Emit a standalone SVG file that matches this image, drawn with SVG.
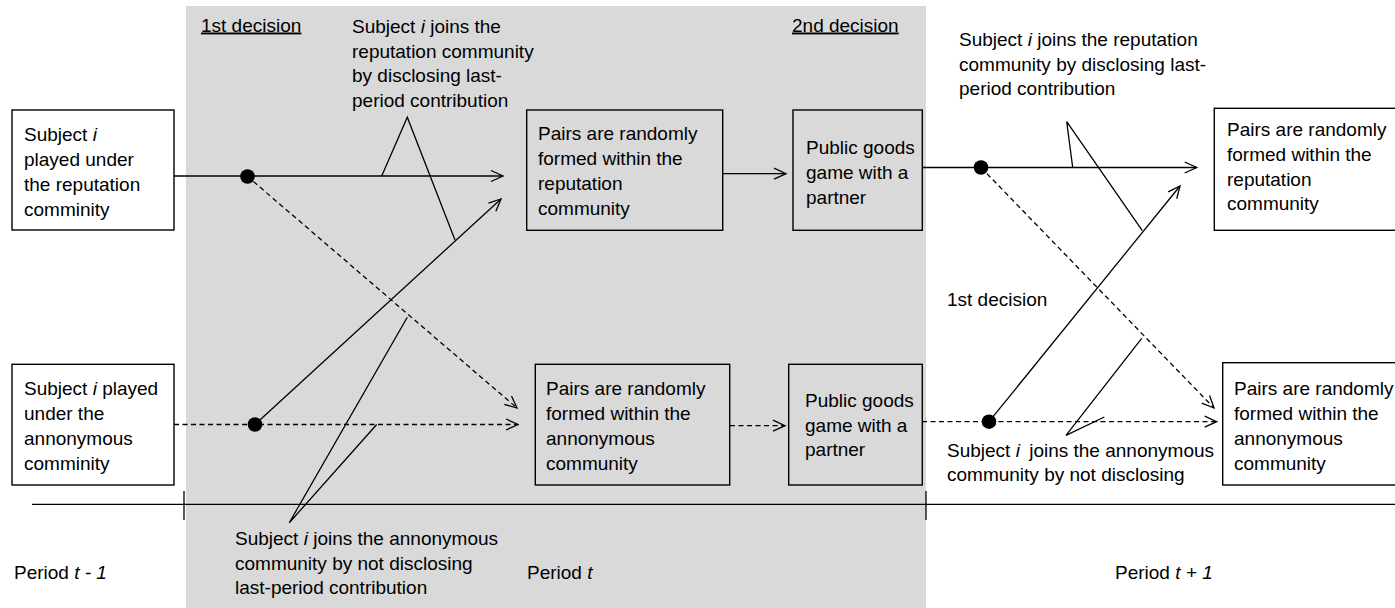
<svg xmlns="http://www.w3.org/2000/svg" width="1395" height="608" viewBox="0 0 1395 608">
<style>
text{font-family:"Liberation Sans",Arial,sans-serif;font-size:19px;fill:#000}
.it{font-style:italic}
.box{fill:none;stroke:#000;stroke-width:1.4}
.ln{fill:none;stroke:#000;stroke-width:1.3}
.ds{fill:none;stroke:#000;stroke-width:1.3;stroke-dasharray:5 3.5}
.ul{text-decoration:underline}
</style>
<defs>
<marker id="ah" markerUnits="userSpaceOnUse" viewBox="-14 -8 16 16" refX="0" refY="0" markerWidth="16" markerHeight="16" orient="auto" overflow="visible">
<path d="M-12,-5.5 L0,0 L-12,5.5" fill="none" stroke="#000" stroke-width="1.3" stroke-dasharray="none"/>
</marker>
</defs>
<rect x="186" y="6" width="740" height="602" fill="#d9d9d9"/>

<g id="timeline">
<line class="ln" x1="32" y1="504.3" x2="1395" y2="504.3"/>
<line class="ln" x1="184" y1="491" x2="184" y2="520"/>
<line class="ln" x1="926" y1="491" x2="926" y2="520"/>
</g>

<g id="connectors">
<line class="ln" x1="174" y1="176" x2="503" y2="176" marker-end="url(#ah)"/>
<line class="ds" x1="247" y1="176" x2="517" y2="408" marker-end="url(#ah)"/>
<line class="ds" x1="174" y1="424.5" x2="518" y2="424.5" marker-end="url(#ah)"/>
<line class="ln" x1="255" y1="424.5" x2="501" y2="199" marker-end="url(#ah)"/>
<line class="ln" x1="723" y1="173.7" x2="786" y2="173.7" marker-end="url(#ah)"/>
<line class="ds" x1="730" y1="425.7" x2="785" y2="425.7" marker-end="url(#ah)"/>
<line class="ln" x1="922" y1="167.5" x2="1196.7" y2="167.5" marker-end="url(#ah)"/>
<line class="ds" x1="981" y1="167.5" x2="1214" y2="408" marker-end="url(#ah)"/>
<line class="ds" x1="922" y1="421.7" x2="1216.7" y2="421.7" marker-end="url(#ah)"/>
<line class="ln" x1="989" y1="421.7" x2="1180" y2="186" marker-end="url(#ah)"/>
<circle cx="247.5" cy="176.5" r="7.3"/>
<circle cx="255" cy="424.5" r="7.3"/>
<circle cx="981" cy="167.5" r="7.3"/>
<circle cx="989" cy="421.7" r="7.3"/>
<polyline class="ln" points="381.7,176 407.3,117.3 455,240"/>
<polyline class="ln" points="407.3,317.3 289.3,522.7 376.7,424.5"/>
<polyline class="ln" points="1072.7,167.5 1066.7,121.7 1142.3,230.7"/>
<polyline class="ln" points="1141.7,338.3 1066,435.3 1104.3,417"/>
</g>

<g id="box1">
<rect class="box" x="12" y="110" width="162" height="120"/>
<text x="24" y="141">Subject <tspan class="it">i</tspan></text>
<text x="24" y="166">played under</text>
<text x="24" y="191">the reputation</text>
<text x="24" y="216">comminity</text>
</g>
<g id="box2">
<rect class="box" x="12" y="364.3" width="162" height="120.7"/>
<text x="24" y="395">Subject <tspan class="it">i</tspan> played</text>
<text x="24" y="420">under the</text>
<text x="24" y="445">annonymous</text>
<text x="24" y="470">comminity</text>
</g>
<g id="box3">
<rect class="box" x="526.7" y="110" width="196" height="120.3"/>
<text x="538" y="140">Pairs are randomly</text>
<text x="538" y="165">formed within the</text>
<text x="538" y="190">reputation</text>
<text x="538" y="214.5">community</text>
</g>
<g id="box4">
<rect class="box" x="793" y="110" width="129.3" height="120.3"/>
<text x="806" y="154">Public goods</text>
<text x="806" y="179">game with a</text>
<text x="806" y="203.5">partner</text>
</g>
<g id="box7">
<rect class="box" x="535.3" y="364.3" width="194.4" height="120.7"/>
<text x="546" y="395">Pairs are randomly</text>
<text x="546" y="420">formed within the</text>
<text x="546" y="445">annonymous</text>
<text x="546" y="469.5">community</text>
</g>
<g id="box8">
<rect class="box" x="788.7" y="364.3" width="133.6" height="120.7"/>
<text x="805" y="407">Public goods</text>
<text x="805" y="432">game with a</text>
<text x="805" y="456">partner</text>
</g>
<g id="box5">
<rect class="box" x="1214.3" y="108.3" width="200" height="122"/>
<text x="1227" y="136">Pairs are randomly</text>
<text x="1227" y="161">formed within the</text>
<text x="1227" y="186">reputation</text>
<text x="1227" y="210">community</text>
</g>
<g id="box6">
<rect class="box" x="1222.7" y="362.7" width="200" height="122.3"/>
<text x="1234" y="395">Pairs are randomly</text>
<text x="1234" y="420">formed within the</text>
<text x="1234" y="445">annonymous</text>
<text x="1234" y="470">community</text>
</g>

<g id="labels">
<text x="201" y="31.5" class="ul">1st decision</text>
<text x="792" y="31.5" class="ul">2nd decision</text>
<text x="352" y="33">Subject <tspan class="it">i</tspan> joins the</text>
<text x="352" y="58">reputation community</text>
<text x="352" y="82">by disclosing last-</text>
<text x="352" y="107">period contribution</text>
<text x="959" y="46">Subject <tspan class="it">i</tspan> joins the reputation</text>
<text x="959" y="71">community by disclosing last-</text>
<text x="959" y="95">period contribution</text>
<text x="947" y="306">1st decision</text>
<text x="947" y="457">Subject <tspan class="it">i</tspan> <tspan dx="4">joins the annonymous</tspan></text>
<text x="947" y="481">community by not disclosing</text>
<text x="235" y="545">Subject <tspan class="it">i</tspan> joins the annonymous</text>
<text x="235" y="570">community by not disclosing</text>
<text x="235" y="594">last-period contribution</text>
<text x="14" y="579">Period <tspan class="it">t - 1</tspan></text>
<text x="527" y="579">Period <tspan class="it">t</tspan></text>
<text x="1115" y="579">Period <tspan class="it">t + 1</tspan></text>
</g>
</svg>
